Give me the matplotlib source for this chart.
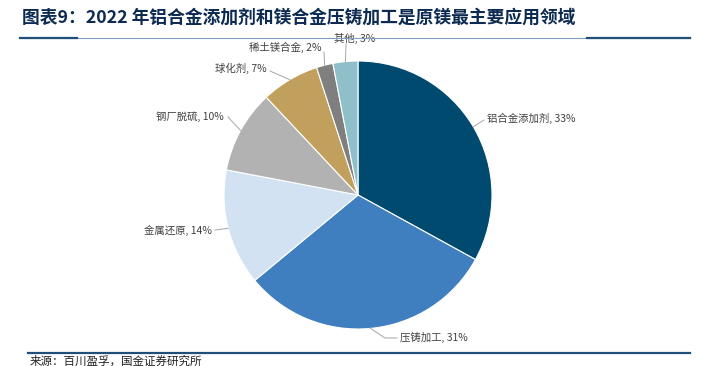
import numpy as np
import matplotlib.pyplot as plt
from matplotlib.lines import Line2D

plt.rcParams['font.family'] = ['Noto Sans CJK SC', 'DejaVu Sans']

# data
names = ["铝合金添加剂", "压铸加工", "金属还原", "钢厂脱硫", "球化剂", "稀土镁合金", "其他"]
shares = [33, 31, 14, 10, 7, 2, 3]
colors = ["#004a6f", "#3f7fbf", "#d2e2f2", "#b2b2b2", "#c19f5c", "#7f7f7f", "#8fc0c9"]

title = "图表9：2022 年铝合金添加剂和镁合金压铸加工是原镁最主要应用领域"
source = "来源：百川盈孚，国金证券研究所"

W, H = 709, 366
cx, cy, R = 358, 195, 134   # pie centre / radius in pixels

fig = plt.figure(figsize=(W / 100, H / 100), dpi=100)
ax = fig.add_axes([0, 0, 1, 1])
ax.axis("off")

wedges, _ = ax.pie(shares, colors=colors, startangle=90, counterclock=False,
                   radius=1, wedgeprops=dict(linewidth=0.8, edgecolor="white"))
ax.set_xlim(-cx / R, (W - cx) / R)
ax.set_ylim(-(H - cy) / R, cy / R)
ax.set_aspect("equal")

# label text positions (pixel) and alignment
lab_pos = [(487, 118, "left"), (400, 337, "left"), (212, 230, "right"),
           (224, 117, "right"), (267, 68, "right"), (322, 47, "right"),
           (375, 38, "right")]
# where leader line ends near the text (pixel)
lead_end = [(484, 120), (397, 338), (215, 230), (228, 117), (270, 71),
            (324, 52), (346, 44)]

def px(x, y):
    return (x - cx) / R, (cy - y) / R

for w, name, s, (tx, ty, ha), (lx, ly) in zip(wedges, names, shares, lab_pos, lead_end):
    ang = np.deg2rad((w.theta1 + w.theta2) / 2)
    ex, ey = np.cos(ang), np.sin(ang)
    ax.annotate(f"{name}, {s}%", xy=(ex, ey), xytext=px(tx, ty),
                ha=ha, va="center", fontsize=7.5, color="#404040")
    lx, ly = px(lx, ly)
    if name == "压铸加工":
        mx, my = px(385, 338)
        ax.plot([ex, mx, lx], [ey, my, ly], color="#a6a6a6", lw=0.7)
    else:
        ax.plot([ex, lx], [ey, ly], color="#a6a6a6", lw=0.7)

# title and rules
fig.text(22 / W, 1 - 18 / H, title, fontsize=12.8, fontweight="bold",
         color="#0d2b52", va="center", ha="left", style="italic")
fig.add_artist(Line2D([20 / W, 690 / W], [1 - 38 / H] * 2, color="#7f9fbf", lw=0.8))
fig.add_artist(Line2D([20 / W, 77 / W], [1 - 38 / H] * 2, color="#1f4e79", lw=1.6))
fig.add_artist(Line2D([587 / W, 690 / W], [1 - 38 / H] * 2, color="#1f4e79", lw=1.6))
fig.add_artist(Line2D([28 / W, 690 / W], [1 - 353 / H] * 2, color="#1f4e79", lw=1.6))
fig.text(30 / W, 1 - 361 / H, source, fontsize=8.3, color="#222222",
         va="center", ha="left")

fig.savefig("out.png", dpi=100)
